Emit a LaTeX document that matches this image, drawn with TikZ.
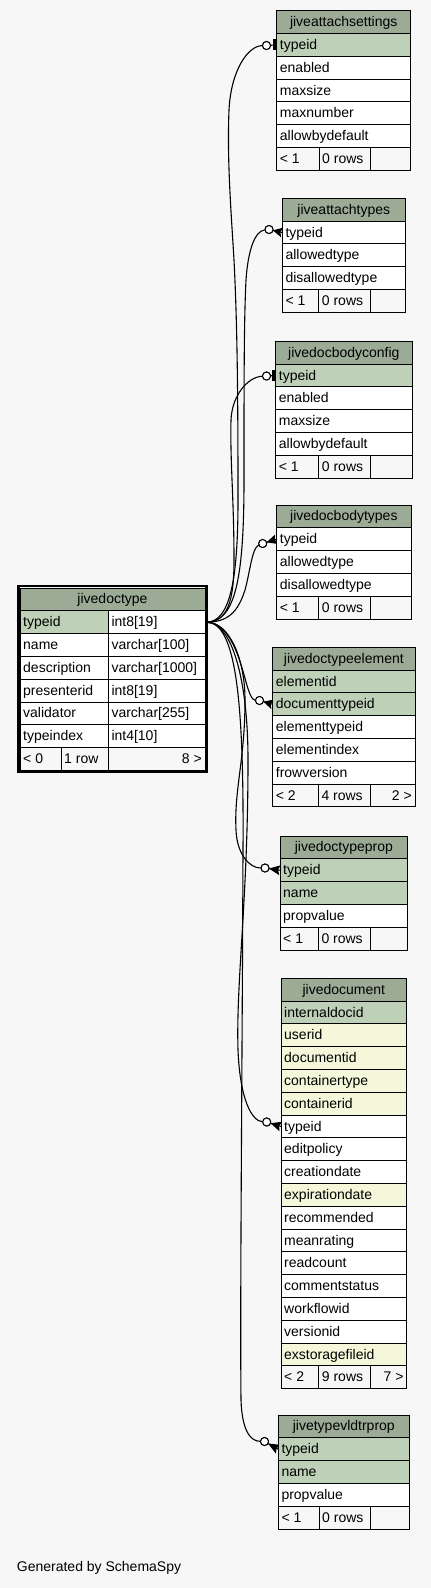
\documentclass[tikz,border=0pt]{standalone}
\usepackage{fontspec}
\setmainfont{Liberation Sans}
\usetikzlibrary{calc}
\definecolor{bgc}{HTML}{F7F7F7}
\definecolor{hdrc}{HTML}{9BAB96}
\definecolor{keyc}{HTML}{BED1B8}
\definecolor{idxc}{HTML}{F4F7DA}
\definecolor{footc}{HTML}{F7F7F7}
\def\rh{22.8}
\newcommand{\dbhead}[5]{%
  \draw[cellline,fill=hdrc] (#2,#4) rectangle (#3,#4+\rh);
  \node[txt] (#1) at ({(#2+#3)/2},#4+\rh/2) {#5};}
\newcommand{\dbrow}[6]{%
  \draw[cellline,fill=#5] (#2,#4) rectangle (#3,#4+\rh);
  \node[txt,anchor=west] (#1) at (#2+3,#4+\rh/2) {#6};}
\newcommand{\dbfoot}[9]{%
  \draw[cellline,fill=footc] (#2,#6) rectangle (#3,#6+\rh);
  \draw[cellline,fill=footc] (#3,#6) rectangle (#4,#6+\rh);
  \draw[cellline,fill=footc] (#4,#6) rectangle (#5,#6+\rh);
  \node[txt,anchor=west] (#1-l) at (#2+3,#6+\rh/2) {#7};
  \node[txt,anchor=west] (#1-m) at (#3+3,#6+\rh/2) {#8};
  \node[txt,anchor=east] (#1-r) at (#5-3,#6+\rh/2) {#9};}
\newcommand{\crowend}[2]{%
  \draw[fk] (#1) -- (#2);
  \fill ($(#1)!4pt!(#2)$) -- ($(#2)!5pt!90:(#1)$) -- ($(#2)!2pt!(#1)$) -- ($(#2)!5pt!-90:(#1)$) -- cycle;}
\newcommand{\teeend}[2]{%
  \draw[fk] (#1) -- (#2);
  \fill ($(#2)+(-3.5,-5.5)$) rectangle ($(#2)+(0,5.5)$);}
\begin{document}
\begin{tikzpicture}[x=1pt,y=-1pt,
  cellline/.style={draw=black,line width=0.9pt},
  txt/.style={font=\fontsize{14}{16}\selectfont,inner sep=0pt,text height=11pt,text depth=2pt},
  fk/.style={draw=black,line width=1.1pt},
  ocirc/.style={circle,draw=black,line width=1pt,fill=white,minimum size=8pt,inner sep=0pt}]
\fill[bgc] (0,0) rectangle (431,1588);
\useasboundingbox (0,0) rectangle (431,1588);

% anchors
\coordinate (src) at (206.5,622.2);
\node[ocirc] (o1) at (266.5,45.5) {};
\node[ocirc] (o2) at (269,229.5) {};
\node[ocirc] (o3) at (266.5,376) {};
\node[ocirc] (o4) at (262.7,543.5) {};
\node[ocirc] (o5) at (259.5,700.5) {};
\node[ocirc] (o6) at (265,868) {};
\node[ocirc] (o7) at (266.7,1122) {};
\node[ocirc] (o8) at (264.5,1441.5) {};
\coordinate (t1) at (276.7,44.9);
\coordinate (t2) at (282.3,232.5);
\coordinate (t3) at (275.7,375.5);
\coordinate (t4) at (276.7,539.2);
\coordinate (t5) at (272.7,704.3);
\coordinate (t6) at (280,870.2);
\coordinate (t7) at (281,1126.5);
\coordinate (t8) at (278.3,1449.2);

% connectors
\draw[fk] (src) .. controls (230,622) and (238,580) .. (238,500) .. controls (238,380) and (237,320) .. (234,260) .. controls (231,210) and (227,160) .. (229,110) .. controls (231,70) and (248,46) .. (o1);
\draw[fk] (src) .. controls (235,622) and (244,580) .. (244,480) .. controls (244,380) and (244,320) .. (246,280) .. controls (248,250) and (255,231) .. (o2);
\draw[fk] (src) .. controls (228,622) and (234,600) .. (234,560) .. controls (234,500) and (230,460) .. (231,420) .. controls (232,395) and (248,377) .. (o3);
\draw[fk] (src) .. controls (228,622) and (238,612) .. (245,590) .. controls (250,572) and (252,548) .. (o4);
\draw[fk] (src) .. controls (230,622) and (240,660) .. (246,682) .. controls (249,693) and (252,700) .. (o5);
\draw[fk] (src) .. controls (230,622) and (245,660) .. (245,700) .. controls (245,760) and (234,790) .. (236,830) .. controls (237,855) and (250,868) .. (o6);
\draw[fk] (src) .. controls (232,622) and (248,680) .. (248,760) .. controls (248,900) and (236,980) .. (238,1050) .. controls (240,1100) and (252,1121) .. (o7);
\draw[fk] (src) .. controls (236,622) and (244,700) .. (243,850) .. controls (242,1100) and (240,1300) .. (241,1400) .. controls (242,1430) and (250,1441) .. (o8);

\teeend{o1}{t1}
\crowend{o2}{t2}
\teeend{o3}{t3}
\crowend{o4}{t4}
\crowend{o5}{t5}
\crowend{o6}{t6}
\crowend{o7}{t7}
\crowend{o8}{t8}
\foreach \n in {o1,o2,o3,o4,o5,o6,o7,o8} {\node[ocirc] at (\n) {};}

% jiveattachsettings
\dbhead{as}{276.7}{410.7}{10.7}{jiveattachsettings}
\foreach \t/\f [count=\k] in {typeid/keyc,enabled/white,maxsize/white,maxnumber/white,allowbydefault/white}
  {\dbrow{as-\t}{276.7}{410.7}{10.7+\k*\rh}{\f}{\t}}
\dbfoot{asf}{276.7}{319}{370.7}{410.7}{10.7+6*\rh}{< 1}{0 rows}{}

% jiveattachtypes
\dbhead{at}{282.3}{405.3}{198.3}{jiveattachtypes}
\foreach \t/\f [count=\k] in {typeid/white,allowedtype/white,disallowedtype/white}
  {\dbrow{at-\t}{282.3}{405.3}{198.3+\k*\rh}{\f}{\t}}
\dbfoot{atf}{282.3}{318.7}{370.7}{405.3}{198.3+4*\rh}{< 1}{0 rows}{}

% jivedocbodyconfig
\dbhead{bc}{275.7}{412}{341.3}{jivedocbodyconfig}
\foreach \t/\f [count=\k] in {typeid/keyc,enabled/white,maxsize/white,allowbydefault/white}
  {\dbrow{bc-\t}{275.7}{412}{341.3+\k*\rh}{\f}{\t}}
\dbfoot{bcf}{275.7}{318.7}{370.7}{412}{341.3+5*\rh}{< 1}{0 rows}{}

% jivedocbodytypes
\dbhead{bt}{276.7}{411}{505}{jivedocbodytypes}
\foreach \t/\f [count=\k] in {typeid/white,allowedtype/white,disallowedtype/white}
  {\dbrow{bt-\t}{276.7}{411}{505+\k*\rh}{\f}{\t}}
\dbfoot{btf}{276.7}{318.7}{370.7}{411}{505+4*\rh}{< 1}{0 rows}{}

% jivedoctypeelement
\dbhead{te}{272.7}{415}{647.3}{jivedoctypeelement}
\foreach \t/\f [count=\k] in {elementid/keyc,documenttypeid/keyc,elementtypeid/white,elementindex/white,frowversion/white}
  {\dbrow{te-\t}{272.7}{415}{647.3+\k*\rh}{\f}{\t}}
\dbfoot{tef}{272.7}{318.3}{370.7}{415}{647.3+6*\rh}{< 2}{4 rows}{2 >}

% jivedoctypeprop
\dbhead{tp}{280}{407.7}{836}{jivedoctypeprop}
\foreach \t/\f [count=\k] in {typeid/keyc,name/keyc,propvalue/white}
  {\dbrow{tp-\t}{280}{407.7}{836+\k*\rh}{\f}{\t}}
\dbfoot{tpf}{280}{318.3}{370.7}{407.7}{836+4*\rh}{< 1}{0 rows}{}

% jivedocument
\dbhead{dc}{281}{406.7}{978.3}{jivedocument}
\foreach \t/\f [count=\k] in {internaldocid/keyc,userid/idxc,documentid/idxc,containertype/idxc,containerid/idxc,typeid/white,editpolicy/white,creationdate/white,expirationdate/idxc,recommended/white,meanrating/white,readcount/white,commentstatus/white,workflowid/white,versionid/white,exstoragefileid/idxc}
  {\dbrow{dc-\t}{281}{406.7}{978.3+\k*\rh}{\f}{\t}}
\dbfoot{dcf}{281}{318.7}{370.7}{406.7}{978.3+17*\rh}{< 2}{9 rows}{7 >}

% jivetypevldtrprop
\dbhead{vp}{278.3}{409.3}{1415}{jivetypevldtrprop}
\foreach \t/\f [count=\k] in {typeid/keyc,name/keyc,propvalue/white}
  {\dbrow{vp-\t}{278.3}{409.3}{1415+\k*\rh}{\f}{\t}}
\dbfoot{vpf}{278.3}{319}{370.7}{409.3}{1415+4*\rh}{< 1}{0 rows}{}

% jivedoctype
\dbhead{dt}{20}{205}{588}{jivedoctype}
\dbrow{dt-typeid}{20}{108.3}{588+1*\rh}{keyc}{typeid}
\dbrow{dt-typeid-t}{108.3}{205}{588+1*\rh}{white}{int8[19]}
\dbrow{dt-name}{20}{108.3}{588+2*\rh}{white}{name}
\dbrow{dt-name-t}{108.3}{205}{588+2*\rh}{white}{varchar[100]}
\dbrow{dt-description}{20}{108.3}{588+3*\rh}{white}{description}
\dbrow{dt-description-t}{108.3}{205}{588+3*\rh}{white}{varchar[1000]}
\dbrow{dt-presenterid}{20}{108.3}{588+4*\rh}{white}{presenterid}
\dbrow{dt-presenterid-t}{108.3}{205}{588+4*\rh}{white}{int8[19]}
\dbrow{dt-validator}{20}{108.3}{588+5*\rh}{white}{validator}
\dbrow{dt-validator-t}{108.3}{205}{588+5*\rh}{white}{varchar[255]}
\dbrow{dt-typeindex}{20}{108.3}{588+6*\rh}{white}{typeindex}
\dbrow{dt-typeindex-t}{108.3}{205}{588+6*\rh}{white}{int4[10]}
\dbfoot{dtf}{20}{61}{108.3}{205}{588+7*\rh}{< 0}{1 row}{8 >}
\draw[line width=2.4pt] (18.3,586) rectangle (206.6,772.2);

\node[txt,anchor=west] (gen) at (16.7,1567.2) {Generated by SchemaSpy};
\end{tikzpicture}
\end{document}
